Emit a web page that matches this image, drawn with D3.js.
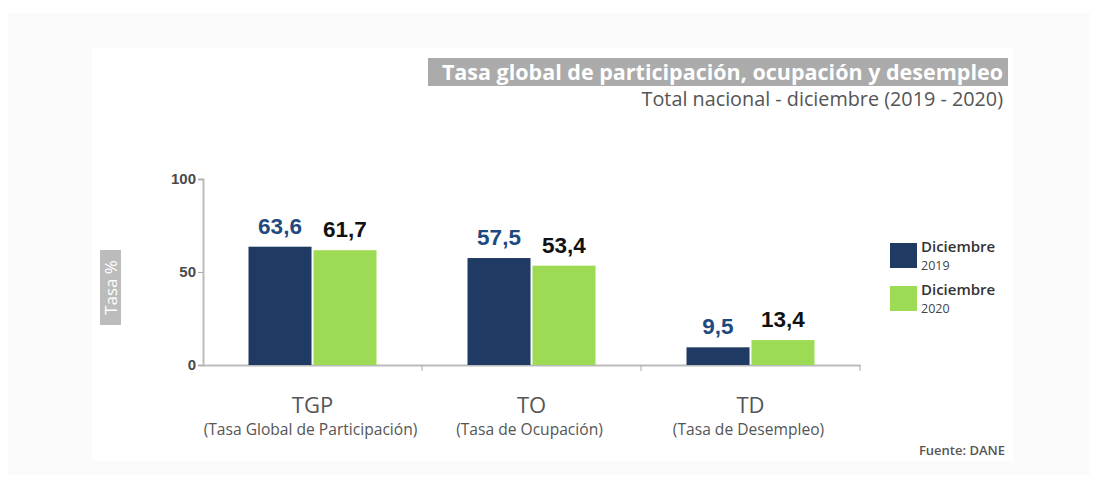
<!DOCTYPE html>
<html>
<head>
<meta charset="utf-8">
<script src="https://cdn.jsdelivr.net/npm/d3@7"></script>
<style>
html,body{margin:0;padding:0;background:#fff;}
svg{display:block;}
</style>
</head>
<body>
<svg id="chart" width="1097" height="480"></svg>
<script>
const categories = ["TGP", "TO", "TD"];
const categoryNames = ["(Tasa Global de Participación)", "(Tasa de Ocupación)", "(Tasa de Desempleo)"];
const seriesNames = ["Diciembre 2019", "Diciembre 2020"];
const legendLines = [["Diciembre", "2019"], ["Diciembre", "2020"]];
const values2019 = [63.6, 57.5, 9.5];
const values2020 = [61.7, 53.4, 13.4];
const yTicks = [0, 50, 100];
const title = "Tasa global de participación, ocupación y desempleo";
const subtitle = "Total nacional - diciembre (2019 - 2020)";
const source = "Fuente: DANE";
const yTitle = "Tasa %";

const colors = ["#1f3a63", "#9edb55"];
const labelColors = ["#1f4a80", "#111111"];

const svg = d3.select("#chart");
// backgrounds
svg.append("rect").attr("x", 8).attr("y", 13).attr("width", 1082).attr("height", 462).attr("fill", "#fbfbfb");
svg.append("rect").attr("x", 92).attr("y", 48).attr("width", 921).attr("height", 413).attr("fill", "#ffffff");

// title
svg.append("rect").attr("x", 428).attr("y", 58).attr("width", 580).attr("height", 28).attr("fill", "#ababab");
svg.append("text").attr("x", 1003).attr("y", 79.5).attr("text-anchor", "end")
  .attr("font-family", "Open Sans").attr("font-weight", "bold").attr("font-size", 21.5)
  .attr("fill", "#fff").text(title);
svg.append("text").attr("x", 1003).attr("y", 106).attr("text-anchor", "end")
  .attr("font-family", "Open Sans").attr("font-size", 19.8)
  .attr("fill", "#555").text(subtitle);

const x0 = d3.scaleBand().domain(categories).range([203, 860]).padding(0);
const x1 = d3.scaleBand().domain(seriesNames).range([45.5, x0.bandwidth() - 45.5]).paddingInner(0.03);
const y = d3.scaleLinear().domain([0, 100]).range([365, 179]);

// axes
const yAxis = svg.append("g").attr("transform", "translate(203,0)")
  .call(d3.axisLeft(y).tickValues(yTicks).tickSize(5).tickPadding(2));
yAxis.select(".domain").attr("stroke", "#bbb").attr("stroke-width", 2);
yAxis.selectAll(".tick line").attr("stroke", "#aaa");
yAxis.selectAll(".tick text").attr("font-family", "Liberation Sans").attr("font-size", 15)
  .attr("font-weight", "bold").attr("fill", "#4a4a4a");

const xAxis = svg.append("g").attr("transform", "translate(0,365)")
  .call(d3.axisBottom(x0).tickSize(0).tickFormat(""));
xAxis.select(".domain").attr("stroke", "#bbb").attr("stroke-width", 2);
xAxis.selectAll(".tick").remove();
// category boundary ticks
const bounds = categories.map(c => x0(c) + x0.bandwidth());
svg.selectAll(".ctick").data(bounds).join("line")
  .attr("x1", d => d).attr("x2", d => d).attr("y1", 365).attr("y2", 371)
  .attr("stroke", "#aaa").attr("stroke-width", 1);

// bars
const data = categories.map((c, i) => ({c, vals: [values2019[i], values2020[i]]}));
const groups = svg.selectAll(".grp").data(data).join("g")
  .attr("transform", d => `translate(${x0(d.c)},0)`);
groups.selectAll("rect").data(d => d.vals.map((v, j) => ({v, j})))
  .join("rect")
  .attr("x", d => x1(seriesNames[d.j]))
  .attr("width", x1.bandwidth())
  .attr("y", d => y(d.v))
  .attr("height", d => y(0) - y(d.v))
  .attr("fill", d => colors[d.j]);
groups.selectAll("text.val").data(d => d.vals.map((v, j) => ({v, j})))
  .join("text").attr("class", "val")
  .attr("x", d => x1(seriesNames[d.j]) + x1.bandwidth() / 2)
  .attr("y", d => y(d.v) - 13)
  .attr("text-anchor", "middle")
  .attr("font-family", "Liberation Sans").attr("font-weight", "bold").attr("font-size", 22.5)
  .attr("fill", d => labelColors[d.j])
  .text(d => d3.format(".1f")(d.v).replace(".", ","));

// category labels
categories.forEach((c, i) => {
  const cx = x0(c) + x0.bandwidth() / 2;
  svg.append("text").attr("x", cx).attr("y", 412.5).attr("text-anchor", "middle")
    .attr("font-family", "Open Sans").attr("font-size", 22).attr("fill", "#555").text(c);
  svg.append("text").attr("x", cx - 2).attr("y", 435).attr("text-anchor", "middle")
    .attr("font-family", "Open Sans").attr("font-size", 15.6).attr("fill", "#555").text(categoryNames[i]);
});

// y title
svg.append("rect").attr("x", 100).attr("y", 250).attr("width", 21).attr("height", 75).attr("fill", "#bcbcbc");
svg.append("text").attr("transform", "translate(116.5,287.5) rotate(-90)").attr("text-anchor", "middle")
  .attr("font-family", "Open Sans").attr("font-size", 17).attr("fill", "#fff").text(yTitle);

// legend
legendLines.forEach((ln, i) => {
  const ly = 243 + i * 43;
  svg.append("rect").attr("x", 890).attr("y", ly).attr("width", 27).attr("height", 25).attr("fill", colors[i]);
  svg.append("text").attr("x", 921).attr("y", ly + 8.5).attr("font-family", "Open Sans")
    .attr("font-weight", 600).attr("font-size", 15).attr("fill", "#333").text(ln[0]);
  svg.append("text").attr("x", 921).attr("y", ly + 27).attr("font-family", "Open Sans")
    .attr("font-size", 12.5).attr("fill", "#444").text(ln[1]);
});

// source
svg.append("text").attr("x", 1005).attr("y", 455).attr("text-anchor", "end")
  .attr("font-family", "Open Sans").attr("font-weight", 600).attr("font-size", 13)
  .attr("fill", "#555").text(source);
</script>
</body>
</html>
